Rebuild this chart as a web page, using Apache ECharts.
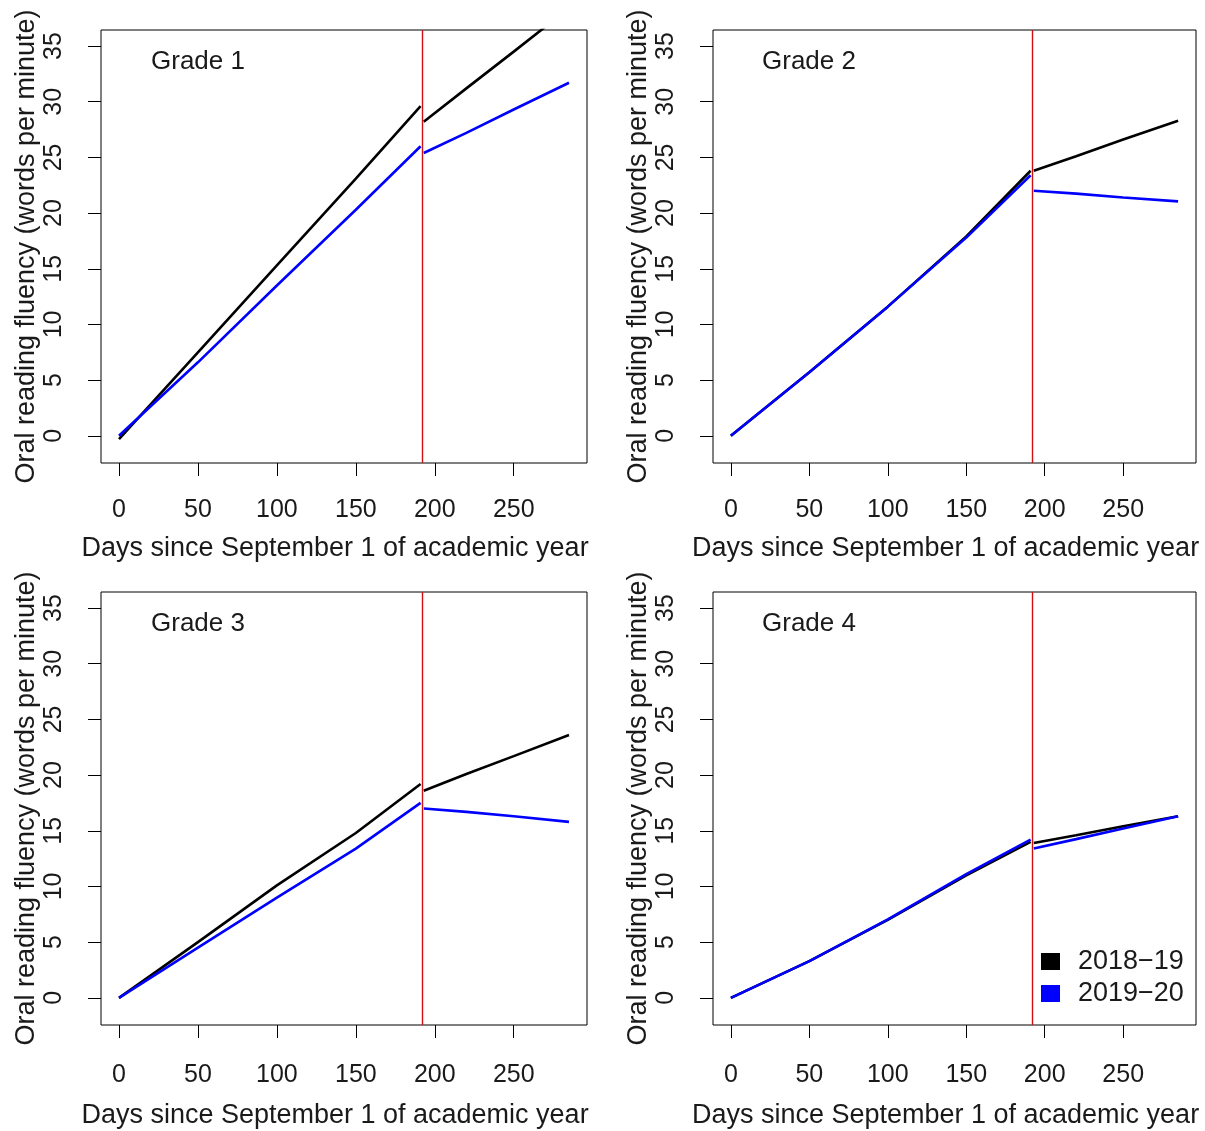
<!DOCTYPE html>
<html>
<head>
<meta charset="utf-8">
<script src="https://cdn.jsdelivr.net/npm/echarts@6/dist/echarts.min.js"></script>
<style>
html,body{margin:0;padding:0;background:#fff;}
#chart{width:1205px;height:1131px;}
</style>
</head>
<body>
<div id="chart"></div>
<script>
// ---- data ----
const xTicks = [0, 50, 100, 150, 200, 250];
const yTicks = [0, 5, 10, 15, 20, 25, 30, 35];
const grades = ['Grade 1', 'Grade 2', 'Grade 3', 'Grade 4'];
const years = ['2018\u221219', '2019\u221220'];
const covidDay = 192;
const preDays = [0, 50, 100, 150, 191];
const postDays = [193, 220, 250, 285];

const g1_1819_pre = [-0.3, 7.5, 15.3, 23.1, 29.6];
const g1_1819_post = [28.2, 31.2, 34.5, 38.4];
const g1_1920_pre = [0, 6.6, 13.5, 20.3, 26.0];
const g1_1920_post = [25.4, 27.2, 29.3, 31.7];

const g2_1819_pre = [0, 5.7, 11.6, 17.9, 23.8];
const g2_1819_post = [23.8, 25.1, 26.6, 28.3];
const g2_1920_pre = [0, 5.7, 11.6, 17.8, 23.4];
const g2_1920_post = [22.0, 21.75, 21.4, 21.05];

const g3_1819_pre = [0, 5.0, 10.1, 14.8, 19.2];
const g3_1819_post = [18.6, 20.1, 21.7, 23.6];
const g3_1920_pre = [0, 4.5, 9.0, 13.4, 17.5];
const g3_1920_post = [17.0, 16.7, 16.3, 15.8];

const g4_1819_pre = [0, 3.3, 7.0, 11.0, 14.0];
const g4_1819_post = [13.9, 14.6, 15.4, 16.3];
const g4_1920_pre = [0, 3.3, 7.05, 11.1, 14.2];
const g4_1920_post = [13.4, 14.25, 15.2, 16.3];

const seriesValues = [
  [[g1_1819_pre, g1_1819_post], [g1_1920_pre, g1_1920_post]],
  [[g2_1819_pre, g2_1819_post], [g2_1920_pre, g2_1920_post]],
  [[g3_1819_pre, g3_1819_post], [g3_1920_pre, g3_1920_post]],
  [[g4_1819_pre, g4_1819_post], [g4_1920_pre, g4_1920_post]]
];

// ---- layout / style ----
const FONT = 'Liberation Sans, Arial, sans-serif';
const TXT = '#1a1a1a';
const colors = ['#000000', '#0000ff'];
const grids = [
  {left: 101, top: 30, width: 486, height: 433},
  {left: 713, top: 30, width: 483, height: 433},
  {left: 101, top: 592, width: 486, height: 433},
  {left: 713, top: 592, width: 483, height: 433}
];
const gradePos = [[151, 49], [762, 49], [151, 611], [762, 611]];
const xLabelMargin = [35, 35, 38, 38];
const xNameGap = [72, 72, 77, 77];

function buildData(pre, post) {
  const d = preDays.map((x, i) => [x, pre[i]]);
  d.push([covidDay, '-']);
  postDays.forEach((x, i) => d.push([x, post[i]]));
  return d;
}

const xAxes = [], yAxes = [], series = [], titles = [];
grids.forEach((g, i) => {
  xAxes.push({
    type: 'value', gridIndex: i, min: -11.4, max: 296.4,
    axisLine: {show: false, onZero: false}, splitLine: {show: false},
    axisTick: {show: true, length: 13, customValues: xTicks, lineStyle: {color: '#000', width: 1}},
    axisLabel: {customValues: xTicks, fontSize: 25, color: TXT, fontFamily: FONT, margin: xLabelMargin[i]},
    name: 'Days since September 1 of academic year',
    nameLocation: 'middle', nameGap: xNameGap[i],
    nameTextStyle: {fontSize: 27, color: TXT, fontFamily: FONT, padding: [0, 18, 0, 0]}
  });
  yAxes.push({
    type: 'value', gridIndex: i, min: -2.44, max: 36.44,
    axisLine: {show: false, onZero: false}, splitLine: {show: false},
    axisTick: {show: true, length: 13, customValues: yTicks, lineStyle: {color: '#000', width: 1}},
    axisLabel: {customValues: yTicks, rotate: 90, fontSize: 25, color: TXT, fontFamily: FONT, margin: 34},
    name: 'Oral reading fluency (words per minute)',
    nameLocation: 'middle', nameGap: 61, nameRotate: 90,
    nameTextStyle: {fontSize: 27, color: TXT, fontFamily: FONT}
  });
  titles.push({
    text: grades[i], left: gradePos[i][0], top: gradePos[i][1],
    textStyle: {fontSize: 26, fontWeight: 'normal', color: TXT, fontFamily: FONT}, padding: 0
  });
  years.forEach((yr, k) => {
    const s = {
      name: yr, type: 'line', xAxisIndex: i, yAxisIndex: i,
      data: buildData(seriesValues[i][k][0], seriesValues[i][k][1]),
      showSymbol: false, symbol: 'none', connectNulls: false, clip: true,
      lineStyle: {color: colors[k], width: 2.6}, itemStyle: {color: colors[k]},
      z: 2 + k
    };
    if (k === 1) {
      s.markLine = {
        silent: true, symbol: ['none', 'none'], animation: false,
        label: {show: false},
        lineStyle: {color: '#d01010', width: 1.4, type: 'solid'},
        data: [{xAxis: covidDay}]
      };
    }
    series.push(s);
  });
});

const chart = echarts.init(document.getElementById('chart'));
chart.setOption({
  backgroundColor: '#fff',
  animation: false,
  title: titles,
  grid: grids.map(g => Object.assign({show: true, borderColor: '#000', borderWidth: 1, backgroundColor: 'transparent'}, g)),
  xAxis: xAxes,
  yAxis: yAxes,
  legend: {
    data: years.map((y, k) => ({name: y, icon: 'rect', itemStyle: {color: colors[k]}})),
    orient: 'vertical', left: 1036, top: 943,
    itemWidth: 19, itemHeight: 17, itemGap: 5,
    textStyle: {fontSize: 27, color: TXT, fontFamily: FONT, padding: [0, 0, 0, 13]},
    selectedMode: false
  },
  series: series
});
</script>
</body>
</html>
